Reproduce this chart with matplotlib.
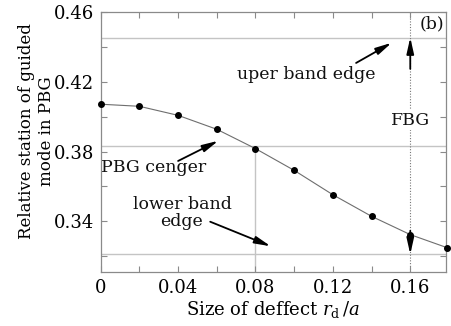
import matplotlib
matplotlib.use("Agg")
import matplotlib.pyplot as plt
from matplotlib.ticker import FixedLocator, MultipleLocator, FuncFormatter

# data
defect_size = [0.0, 0.02, 0.04, 0.06, 0.08, 0.10, 0.12, 0.14, 0.16, 0.179]
mode_station = [0.4072, 0.4060, 0.4008, 0.3928, 0.3817, 0.3692, 0.3552, 0.3428, 0.3323, 0.3248]
upper_edge = 0.4455
lower_edge = 0.3210
pbg_center = (upper_edge + lower_edge) / 2
center_x = 0.08
fbg_x = 0.16

INK = "#111111"
GRID = "#c4c4c4"
SPINE = "#8a8a8a"
CURVE = "#6e6e6e"

plt.rcParams.update({
    "font.family": "DejaVu Serif",
    "mathtext.fontset": "dejavuserif",
    "font.size": 12,
    "text.color": INK,
})

fig = plt.figure(figsize=(4.52, 3.26), dpi=100)
ax = fig.add_axes([0.2228, 0.1666, 0.7632, 0.7957])

# reference lines
ax.axhline(upper_edge, color=GRID, lw=1.0, zorder=1)
ax.axhline(lower_edge, color=GRID, lw=1.0, zorder=1)
ax.axhline(pbg_center, color=GRID, lw=1.0, zorder=1)
ax.vlines(center_x, 0.311, mode_station[4], color=GRID, lw=1.0, zorder=1)
ax.axvline(fbg_x, color="#777777", lw=0.8, ls=(0, (1, 1.5)), zorder=1)

# mode curve
ax.plot(defect_size, mode_station, color=CURVE, lw=0.8, zorder=2)
ax.plot(defect_size, mode_station, "o", color="black", ms=4, zorder=3, clip_on=False)

ax.set_xlim(0, 0.1783)
ax.set_ylim(0.311, 0.46)

ax.xaxis.set_major_locator(MultipleLocator(0.04))
ax.xaxis.set_minor_locator(MultipleLocator(0.02))
ax.yaxis.set_major_locator(FixedLocator([0.34, 0.38, 0.42, 0.46]))
ax.yaxis.set_minor_locator(FixedLocator([0.32, 0.36, 0.40, 0.44]))
ax.xaxis.set_major_formatter(FuncFormatter(lambda v, pos: f"{v:g}"))
ax.yaxis.set_major_formatter(FuncFormatter(lambda v, pos: f"{v:.2f}"))
ax.tick_params(which="both", direction="in", top=True, right=True,
               length=4, width=0.8, color=SPINE, labelsize=13, pad=5)
for s in ax.spines.values():
    s.set_color(SPINE)
    s.set_linewidth(0.9)

ax.set_xlabel(r"Size of deffect $r_\mathrm{d}\,/a$", fontsize=13, labelpad=2)
ax.set_ylabel("Relative station of guided\nmode in PBG", fontsize=12,
              linespacing=1.2)
ax.yaxis.set_label_coords(-0.133, 0.542)

# annotations
arrow = dict(arrowstyle="-|>,head_length=0.8,head_width=0.18", color="black", lw=1.3,
             shrinkA=0, shrinkB=0)
ax.text(0.106, 0.424, "uper band edge", ha="center", va="center", fontsize=12.5)
ax.annotate("", xy=(0.1504, 0.4425), xytext=(0.132, 0.4309), arrowprops=arrow)

ax.text(0.0273, 0.3706, "PBG cenger", ha="center", va="center", fontsize=12.5)
ax.annotate("", xy=(0.0608, 0.3862), xytext=(0.040, 0.3746), arrowprops=arrow)

ax.text(0.042, 0.3447, "lower band\nedge", ha="center", va="center", fontsize=12.5,
        linespacing=0.95)
ax.annotate("", xy=(0.0879, 0.3256), xytext=(0.0566, 0.3397), arrowprops=arrow)

ax.annotate("", xy=(fbg_x, upper_edge), xytext=(fbg_x, 0.4275), arrowprops=arrow)
ax.annotate("", xy=(fbg_x, lower_edge), xytext=(fbg_x, 0.3345), arrowprops=arrow)
ax.text(fbg_x, 0.398, "FBG", ha="center", va="center", fontsize=12.5,
        bbox=dict(facecolor="white", edgecolor="none", pad=1))

ax.text(0.995, 0.955, "(b)", transform=ax.transAxes, ha="right", va="center",
        fontsize=12.5, bbox=dict(facecolor="white", edgecolor="none", pad=1))

fig.savefig("out.png", dpi=100)
